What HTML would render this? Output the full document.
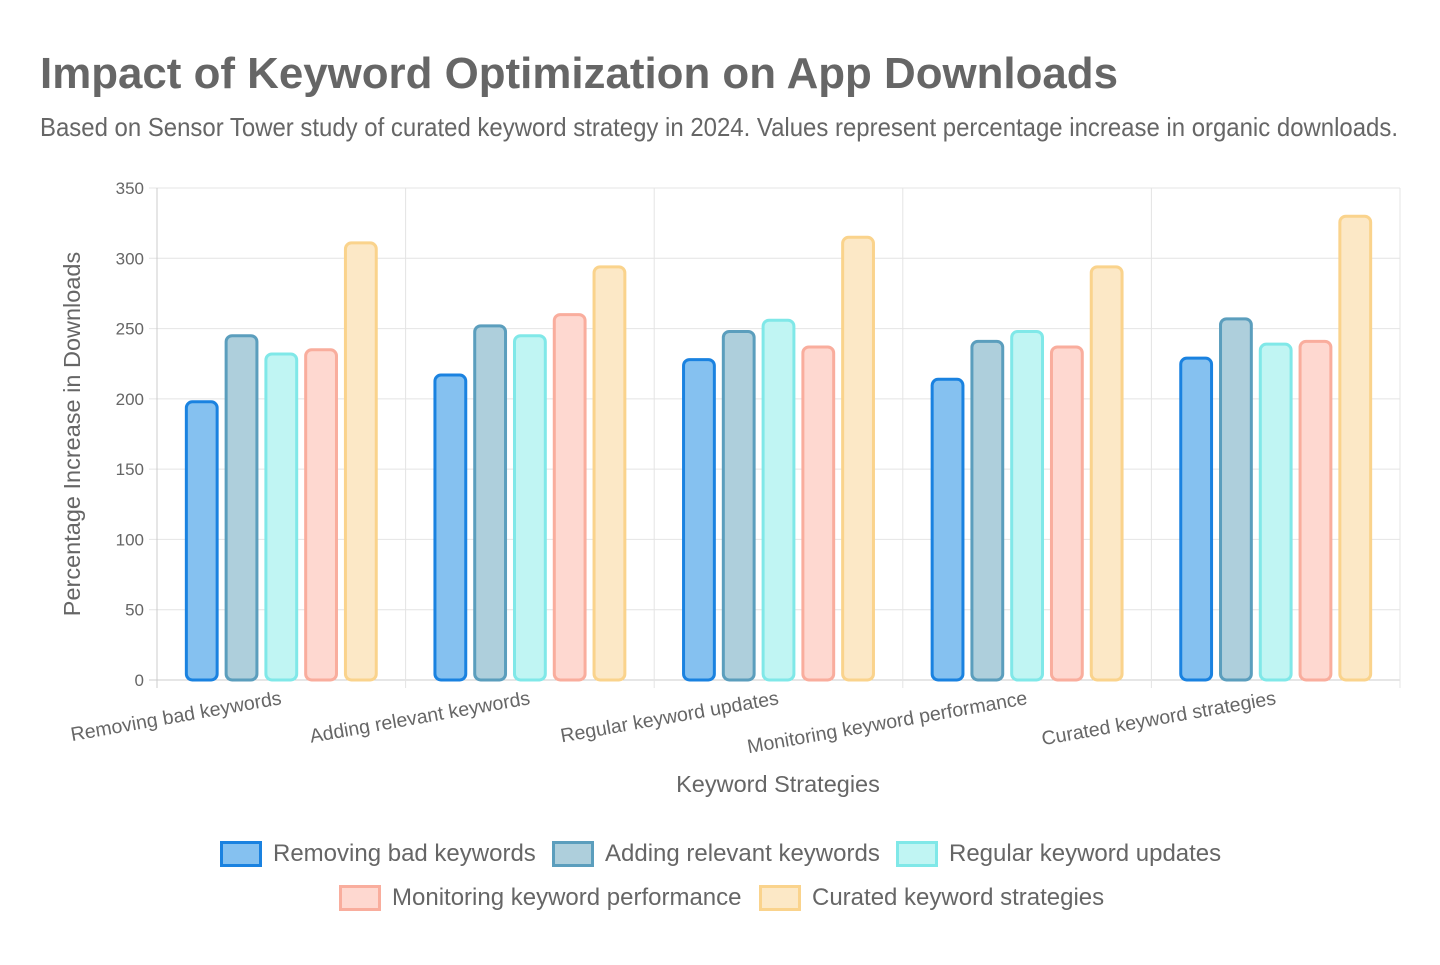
<!DOCTYPE html>
<html><head><meta charset="utf-8"><style>
body{margin:0;background:#fff;}
svg text{font-family:"Liberation Sans",sans-serif;}
</style></head><body>
<svg id="chart" width="1440" height="960" xmlns="http://www.w3.org/2000/svg">
<text x="40" y="88" font-size="44" font-weight="bold" fill="#666" textLength="1078" lengthAdjust="spacingAndGlyphs">Impact of Keyword Optimization on App Downloads</text>
<text x="40" y="136" font-size="26" fill="#666" textLength="1358" lengthAdjust="spacingAndGlyphs">Based on Sensor Tower study of curated keyword strategy in 2024. Values represent percentage increase in organic downloads.</text>
<g id="grid"></g>
<g id="bars"></g>
<g id="labels"></g>
<text transform="translate(80,434) rotate(-90)" text-anchor="middle" font-size="23.5" fill="#666">Percentage Increase in Downloads</text>
<text x="778" y="792" text-anchor="middle" font-size="23.5" fill="#666">Keyword Strategies</text>
<g id="legend"></g>
</svg>
<script>
const categories = ["Removing bad keywords","Adding relevant keywords","Regular keyword updates","Monitoring keyword performance","Curated keyword strategies"];
const seriesNames = ["Removing bad keywords","Adding relevant keywords","Regular keyword updates","Monitoring keyword performance","Curated keyword strategies"];
const s1 = [199,218,229,215,230];
const s2 = [246,253,249,242,258];
const s3 = [233,246,257,249,240];
const s4 = [236,261,238,238,242];
const s5 = [312,295,316,295,331];
const yTicks = [0,50,100,150,200,250,300,350];
const series = [s1,s2,s3,s4,s5];
const fills = ["#85c1f0","#aecfdc","#c0f5f3","#fed8d0","#fce8c6"];
const strokes = ["#1a82e0","#5b9ebd","#80e8e8","#f9ad9d","#fad38c"];
const NS="http://www.w3.org/2000/svg";
const L=157,R=1400,T=188,B=680;
const y=v=>B-(v/350)*(B-T);
const gw=(R-L)/categories.length;
function mk(tag,attrs,parent){const e=document.createElementNS(NS,tag);for(const k in attrs)e.setAttribute(k,attrs[k]);parent.appendChild(e);return e;}
const grid=document.getElementById('grid'),bars=document.getElementById('bars'),labels=document.getElementById('labels'),legend=document.getElementById('legend');
yTicks.forEach(t=>{
  const ln=mk('line',{x1:L-8,x2:R,y1:y(t),y2:y(t),stroke:t===0?'#ccc':'#e4e4e4','stroke-width':1},grid);
  
  
  const tx=mk('text',{x:L-13,y:y(t)+6,'text-anchor':'end','font-size':17,fill:'#666'},labels);
  tx.textContent=t;
  
  
});
for(let i=0;i<=categories.length;i++){
  const x=L+i*gw;
  const ln=mk('line',{x1:x,x2:x,y1:T,y2:B+8,stroke:i===0?'#ccc':'#e4e4e4','stroke-width':1},grid);
  
  
}
const step=gw*0.8/5,bw=step*0.85;
categories.forEach((c,i)=>{
  const cx=L+gw*(i+0.5);
  series.forEach((s,j)=>{
    const bx=cx-gw*0.4+step*j+(step-bw)/2;
    const top=y(s[i]);
    const r=mk('rect',{x:bx+1.5,y:top+1.5,width:bw-3,height:B-top-1.5,rx:6,ry:6,fill:fills[j],stroke:strokes[j],'stroke-width':3},bars);
    
    
  });
  const tx=mk('text',{transform:`translate(${cx+1},${B+24}) rotate(-10)`,'text-anchor':'end','font-size':19.5,fill:'#666'},labels);
  tx.textContent=c;
  
  
});
const legPos=[[220,841],[552,841],[896,841],[339,885],[759,885]];
seriesNames.forEach((n,j)=>{
  const [lx,ly]=legPos[j];
  const g=mk('g',{},legend);
  
  
  mk('rect',{x:lx+1.5,y:ly+1.5,width:39,height:23,fill:fills[j],stroke:strokes[j],'stroke-width':3},g);
  const t=mk('text',{x:lx+53,y:ly+20,'font-size':24,fill:'#666'},g);
  t.textContent=n;
});
</script>
</body></html>
